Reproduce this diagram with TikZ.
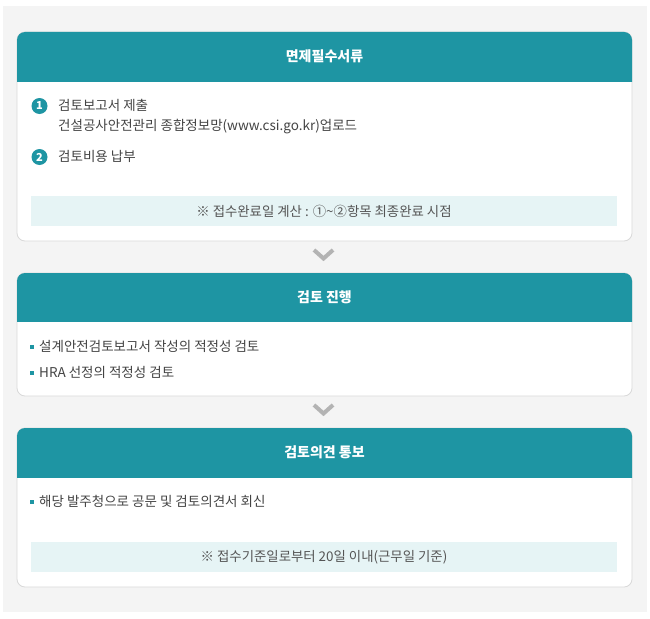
\documentclass[tikz,border=0pt]{standalone}
\usepackage{fontspec}
\newfontfamily\kr{Noto Sans CJK KR}
\definecolor{teal1}{HTML}{1E95A3}
\definecolor{bggray}{HTML}{F4F4F4}
\definecolor{boxline}{HTML}{D9D9D9}
\definecolor{notebg}{HTML}{E6F4F5}
\definecolor{txt}{HTML}{444444}
\definecolor{notetxt}{HTML}{555555}
\definecolor{chev}{HTML}{B3B3B3}
\tikzset{
  card/.style={draw=boxline, line width=0.8pt, fill=white, rounded corners=8pt},
  hdr/.style={fill=teal1, rounded corners=8pt},
  hdrtext/.style={text=white, font=\kr\fontsize{14}{16}\selectfont\bfseries, anchor=center},
  body/.style={text=txt, font=\kr\fontsize{13.5}{15}\selectfont, anchor=west, inner sep=0pt},
  notebar/.style={fill=notebg},
  notetext/.style={text=notetxt, font=\kr\fontsize{13.4}{15}\selectfont, anchor=center},
  numdot/.style={circle, fill=teal1, text=white, inner sep=0pt, minimum size=16pt, font=\kr\bfseries\fontsize{11}{11}\selectfont},
  sq/.style={fill=teal1, inner sep=0pt, minimum size=3.5pt},
  chevron/.style={draw=chev, line width=4pt, line cap=butt, line join=miter}
}
\begin{document}
\begin{tikzpicture}[x=1pt,y=-1pt]
\useasboundingbox (0,0) rectangle (650,618);
\fill[white] (0,0) rectangle (650,618);
\fill[bggray] (3,6) rectangle (647,612);
% Box 1
\draw[card] (17,32) rectangle (632,241);
\begin{scope}
\clip (17,32) rectangle (632,81);
\fill[hdr] (17,32) rectangle (632,100);
\end{scope}
\node[hdrtext] (h1) at (324.5,56) {면제필수서류};
\node[numdot] (n1) at (39.5,106) {1};
\node[body] (t1a) at (58,105) {검토보고서 제출};
\node[body] (t1b) at (58,127) {건설공사안전관리 종합정보망(www.csi.go.kr)업로드};
\node[numdot] (n2) at (39.5,157) {2};
\node[body] (t2) at (58,156) {검토비용 납부};
\fill[notebar] (31,196) rectangle (617,226);
\node[notetext] (nt1) at (324,211) {※ 접수완료일 계산 : ①\textasciitilde②항목 최종완료 시점};
% chevron 1
\coordinate (c1a) at (314,250);
\coordinate (c1b) at (323.5,258.5);
\coordinate (c1c) at (333,250);
\draw[chevron] (c1a) -- (c1b) -- (c1c);
% Box 2
\draw[card] (17,273) rectangle (632,396);
\begin{scope}
\clip (17,273) rectangle (632,321);
\fill[hdr] (17,273) rectangle (632,340);
\end{scope}
\node[hdrtext] (h2) at (324.5,297) {검토 진행};
\node[sq] (b1) at (32,347) {};
\node[body] (t3) at (39,346) {설계안전검토보고서 작성의 적정성 검토};
\node[sq] (b2) at (32,373) {};
\node[body] (t4) at (39,372) {HRA 선정의 적정성 검토};
% chevron 2
\coordinate (c2a) at (314,405);
\coordinate (c2b) at (323.5,413.5);
\coordinate (c2c) at (333,405);
\draw[chevron] (c2a) -- (c2b) -- (c2c);
% Box 3
\draw[card] (17,428) rectangle (632,587);
\begin{scope}
\clip (17,428) rectangle (632,477);
\fill[hdr] (17,428) rectangle (632,500);
\end{scope}
\node[hdrtext] (h3) at (324.5,452) {검토의견 통보};
\node[sq] (b3) at (32,502) {};
\node[body] (t5) at (39,501) {해당 발주청으로 공문 및 검토의견서 회신};
\fill[notebar] (31,542) rectangle (617,572);
\node[notetext] (nt2) at (324,557) {※ 접수기준일로부터 20일 이내(근무일 기준)};
\end{tikzpicture}
\end{document}
